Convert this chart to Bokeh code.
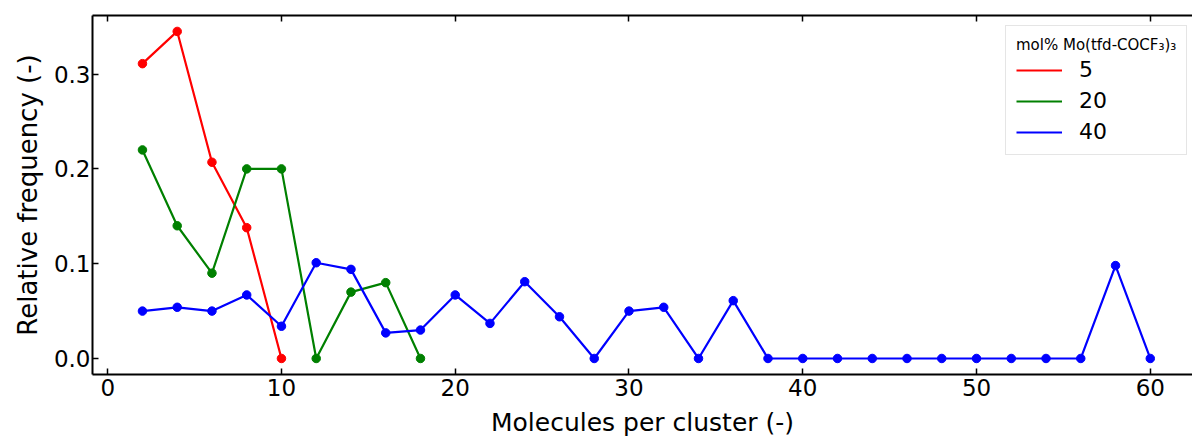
from bokeh.plotting import figure
from bokeh.models import Range1d, LinearAxis, FixedTicker, Legend, LegendItem, NumeralTickFormatter
from bokeh.embed import file_html
from bokeh.resources import INLINE

# Data
x_5 = [2, 4, 6, 8, 10]
y_5 = [0.311, 0.345, 0.207, 0.138, 0.0]

x_20 = [2, 4, 6, 8, 10, 12, 14, 16, 18]
y_20 = [0.220, 0.140, 0.090, 0.200, 0.200, 0.0, 0.070, 0.080, 0.0]

x_40 = [2, 4, 6, 8, 10, 12, 14, 16, 18, 20, 22, 24, 26, 28, 30, 32, 34, 36,
        38, 40, 42, 44, 46, 48, 50, 52, 54, 56, 58, 60]
y_40 = [0.050, 0.054, 0.050, 0.067, 0.034, 0.101, 0.094, 0.027, 0.030, 0.067,
        0.037, 0.081, 0.044, 0.0, 0.050, 0.054, 0.0, 0.061,
        0.0, 0.0, 0.0, 0.0, 0.0, 0.0, 0.0, 0.0, 0.0, 0.0, 0.098, 0.0]

series_labels = ["5", "20", "40"]
series_colors = ["#ff0000", "#008000", "#0000ff"]
x_ticks = [0, 10, 20, 30, 40, 50, 60]
y_ticks = [0.0, 0.1, 0.2, 0.3]
legend_title = "mol% Mo(tfd-COCF\u2083)\u2083"
x_label = "Molecules per cluster (-)"
y_label = "Relative frequency (-)"

FONT = "DejaVu Sans"

p = figure(frame_width=1100, frame_height=359, output_backend="svg", toolbar_location=None,
           x_range=Range1d(-0.875, 62.43), y_range=Range1d(-0.0169, 0.3618),
           min_border_left=92, min_border_right=0, min_border_top=15, min_border_bottom=50)
p.outline_line_color = None
p.grid.visible = False
p.background_fill_color = "white"
p.border_fill_color = "white"

def style_axis(ax, show_labels=True):
    ax.axis_line_width = 2
    ax.axis_line_color = "black"
    ax.major_tick_in = 6
    ax.major_tick_out = 0
    ax.major_tick_line_width = 1.5
    ax.minor_tick_in = 0
    ax.minor_tick_out = 0
    ax.major_label_text_font = FONT
    ax.major_label_text_color = "black"
    ax.axis_label_text_font = FONT
    ax.axis_label_text_font_style = "normal"
    ax.axis_label_text_font_size = "25px"
    ax.axis_label_text_color = "black"
    ax.major_label_text_font_size = "23px" if show_labels else "0px"

xa = p.xaxis[0]
style_axis(xa)
xa.ticker = FixedTicker(ticks=x_ticks)
xa.axis_label = x_label
xa.major_label_standoff = 4
xa.axis_label_standoff = 9

ya = p.yaxis[0]
style_axis(ya)
ya.ticker = FixedTicker(ticks=y_ticks)
ya.formatter = NumeralTickFormatter(format="0.0")
ya.axis_label = y_label
ya.axis_label_text_font_size = "26px"
ya.major_label_standoff = 2
ya.axis_label_standoff = 8

top = LinearAxis(ticker=FixedTicker(ticks=x_ticks))
style_axis(top, show_labels=False)
top.major_label_text_color = None
p.add_layout(top, "above")

items = []
for xs, ys, lab, col in zip([x_5, x_20, x_40], [y_5, y_20, y_40], series_labels, series_colors):
    r = p.line(xs, ys, line_color=col, line_width=2.2)
    p.scatter(xs, ys, marker="circle", size=8.5, fill_color=col, line_color=col)
    items.append(LegendItem(label=lab, renderers=[r]))

legend = Legend(items=items, location=(913, 219), title=legend_title)
legend.title_text_font = FONT
legend.title_text_font_size = "15px"
legend.title_text_font_style = "normal"
legend.title_text_color = "black"
legend.title_standoff = 3
legend.label_text_font = FONT
legend.label_text_font_size = "22px"
legend.label_text_color = "black"
legend.label_standoff = 17
legend.glyph_width = 46
legend.glyph_height = 22
legend.label_height = 22
legend.spacing = 6
legend.padding = 10
legend.margin = 0
legend.border_line_color = "#cccccc"
legend.border_line_width = 1
legend.background_fill_alpha = 0.8
p.add_layout(legend)

open("out.html", "w").write(file_html(p, INLINE))
